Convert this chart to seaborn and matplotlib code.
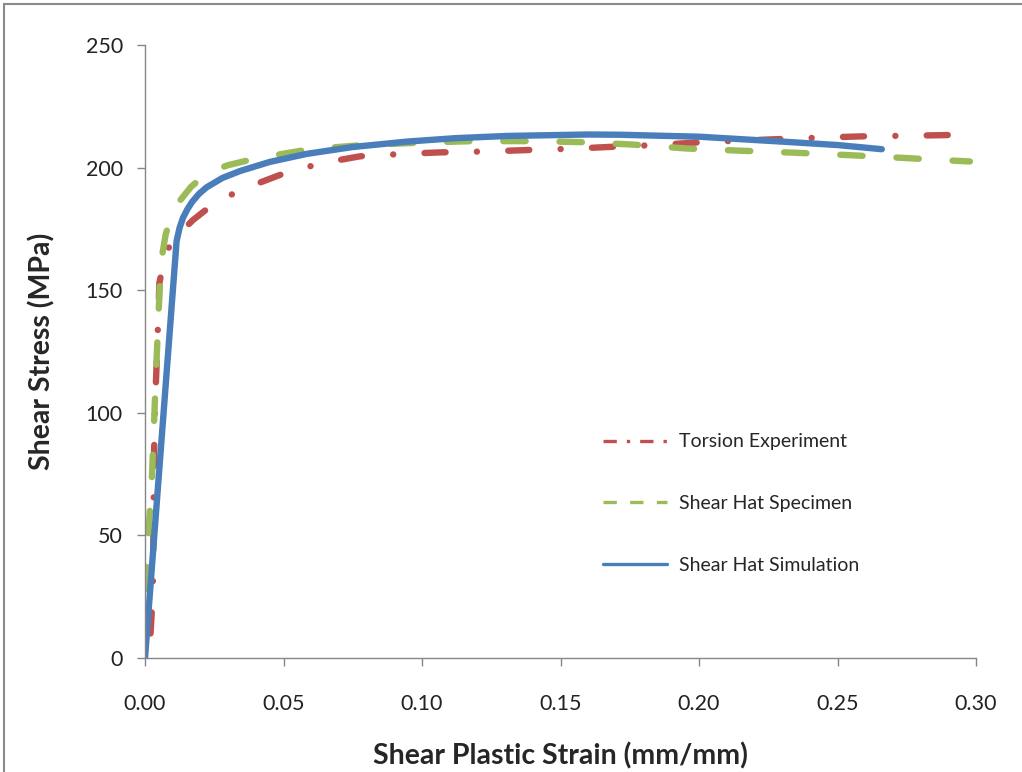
import numpy as np
import pandas as pd
import matplotlib
matplotlib.use("Agg")
import matplotlib.pyplot as plt
from matplotlib.lines import Line2D
import seaborn as sns

# ---- data ----
torsion_x = [0.0020, 0.0025, 0.0029, 0.0031, 0.0033, 0.0036, 0.0042, 0.0052, 0.0070, 0.0096,
             0.0173, 0.0245, 0.0343, 0.0487, 0.0632, 0.0776, 0.0933, 0.1065, 0.1240, 0.1390,
             0.1540, 0.1690, 0.1847, 0.2000, 0.2148, 0.2307, 0.2455, 0.2608, 0.2760, 0.2912, 0.2966]
torsion_y = [10, 20, 33, 60, 85, 102, 120, 153, 163, 170,
             178.6, 185, 190.8, 197, 201.7, 204.6, 205.6, 206.2, 206.6, 207.2,
             207.7, 208.5, 209.2, 210.3, 211.0, 211.7, 212.3, 212.8, 213.0, 213.3, 213.3]

hat_spec_x = [0.0002, 0.0011, 0.0024, 0.0032, 0.0040, 0.0048, 0.0057, 0.0075, 0.0096, 0.0126,
              0.0165, 0.0223, 0.0300, 0.0403, 0.0596, 0.0788, 0.1000, 0.1185, 0.1400, 0.1570,
              0.1760, 0.1955, 0.2148, 0.2340, 0.2538, 0.2730, 0.2924, 0.2978]
hat_spec_y = [28, 49, 71, 94, 117, 138, 161, 173, 180, 186.5,
              192, 197.8, 201, 203.8, 207.5, 209.2, 210.2, 210.8, 210.8, 210.4,
              209.4, 207.8, 206.9, 206.1, 205.1, 204.0, 202.8, 202.5]

hat_sim_x = [0.0, 0.0114, 0.0125, 0.0137, 0.0153, 0.0170, 0.0195, 0.0223, 0.0280, 0.0343,
             0.0450, 0.0584, 0.0750, 0.0945, 0.1120, 0.1306, 0.1600, 0.1715, 0.2000,
             0.2300, 0.2500, 0.2660]
hat_sim_y = [0, 170, 175.5, 179.5, 183, 186, 189.3, 192, 195.8, 198.6,
             202.3, 205.6, 208.4, 210.6, 212.0, 212.9, 213.5, 213.4, 212.6,
             210.6, 209.2, 207.5]

series_names = ["Torsion Experiment", "Shear Hat Specimen", "Shear Hat Simulation"]
x_ticks = [0.00, 0.05, 0.10, 0.15, 0.20, 0.25, 0.30]
y_ticks = [0, 50, 100, 150, 200, 250]

# ---- style ----
sns.set_style("white")
plt.rcParams['font.family'] = ['Lato', 'DejaVu Sans']

red = "#C0504D"
green = "#9BBB59"
blue = "#4A7EBB"
gray = "#868686"

fig = plt.figure(figsize=(10.22, 7.72), dpi=100)
ax = fig.add_axes([145/1022, 1 - 658/772, (976-145)/1022, (658-45)/772])

lw = 4.6
styles = [
    (torsion_x, torsion_y, red, (0, (3.3, 4.9, 0.01, 4.9))),
    (hat_spec_x, hat_spec_y, green, (0, (3.5, 5.3))),
    (hat_sim_x, hat_sim_y, blue, "-"),
]
for (xs, ys, col, ls), name in zip(styles, series_names):
    df = pd.DataFrame({"strain": xs, "stress": ys})
    sns.lineplot(data=df, x="strain", y="stress", ax=ax, color=col, lw=lw,
                 linestyle=ls, sort=False, estimator=None, legend=False)
    line = ax.lines[-1]
    line.set_linestyle(ls)
    line.set_dash_capstyle("round")
    line.set_solid_capstyle("round")
    line.set_solid_joinstyle("round")

ax.set_xlim(0, 0.30)
ax.set_ylim(0, 250)
ax.set_xticks(x_ticks)
ax.set_xticklabels([f"{v:.2f}" for v in x_ticks])
ax.set_yticks(y_ticks)
ax.set_yticklabels([str(v) for v in y_ticks])
ax.tick_params(axis="both", direction="out", length=6, width=1, color=gray,
               labelsize=15.5, labelcolor="#222222", pad=10, bottom=True, left=True)
ax.tick_params(axis="x", pad=20)

for s in ["top", "right"]:
    ax.spines[s].set_visible(False)
for s in ["left", "bottom"]:
    ax.spines[s].set_color(gray)
    ax.spines[s].set_linewidth(1.0)

ax.set_xlabel("Shear Plastic Strain (mm/mm)", fontsize=20.5, fontweight="bold", labelpad=20)
ax.set_ylabel("Shear Stress (MPa)", fontsize=20.5, fontweight="bold", labelpad=22)

handles = [
    Line2D([], [], color=red, lw=2.4, linestyle=(0, (4, 3, 1, 3))),
    Line2D([], [], color=green, lw=2.4, linestyle=(0, (4, 4))),
    Line2D([], [], color=blue, lw=2.4, linestyle="-"),
]
ax.legend(handles, series_names, loc="upper left", bbox_to_anchor=(0.53, 0.395),
          frameon=False, fontsize=14, handlelength=3.3, labelspacing=2.3,
          handletextpad=0.6)

# outer chart border (left and top visible in the reference)
fig.add_artist(Line2D([4/1022, 4/1022], [0, 1 - 4/772], transform=fig.transFigure,
                      color="#8a8a8a", lw=1.5))
fig.add_artist(Line2D([4/1022, 1], [1 - 4/772, 1 - 4/772], transform=fig.transFigure,
                      color="#8a8a8a", lw=1.5))

fig.savefig("out.png", dpi=100, facecolor="white")
